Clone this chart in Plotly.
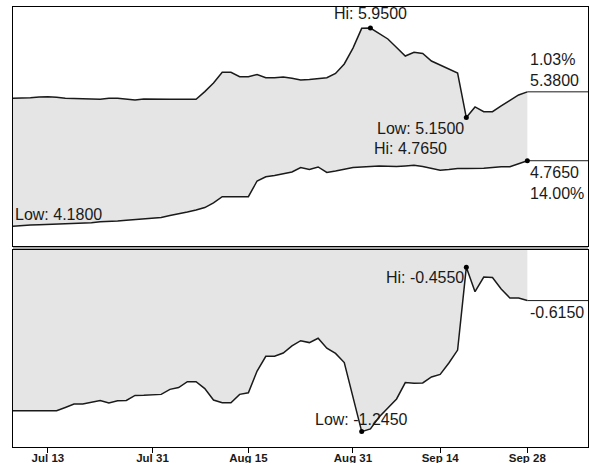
import plotly.graph_objects as go
import pandas as pd

# business days shown on the chart (weekends removed from the axis)
dates = list(pd.bdate_range("2007-07-09", "2007-09-28"))
axis_end = "2007-10-08 23:00"

tick_dates = ["2007-07-13", "2007-07-31", "2007-08-15", "2007-08-31", "2007-09-14", "2007-09-28"]
tick_labels = ["Jul 13", "Jul 31", "Aug 15", "Aug 31", "Sep 14", "Sep 28"]

upper = [5.322, 5.323, 5.328, 5.334, 5.337, 5.331, 5.322, 5.320, 5.320, 5.316,
         5.313, 5.322, 5.322, 5.316, 5.307, 5.316, 5.313, 5.313, 5.313, 5.313,
         5.313, 5.313, 5.382, 5.459, 5.554, 5.554, 5.515, 5.515, 5.535, 5.506,
         5.506, 5.512, 5.501, 5.486, 5.490, 5.496, 5.506, 5.544, 5.629, 5.771,
         5.947, 5.950, 5.901, 5.852, 5.776, 5.700, 5.733, 5.722, 5.655, 5.620,
         5.584, 5.548, 5.150, 5.245, 5.203, 5.203, 5.254, 5.307, 5.352, 5.380]

lower = [4.180, 4.187, 4.191, 4.194, 4.197, 4.200, 4.203, 4.204, 4.206, 4.212,
         4.220, 4.221, 4.227, 4.233, 4.240, 4.245, 4.249, 4.258, 4.276, 4.289,
         4.307, 4.325, 4.347, 4.388, 4.444, 4.444, 4.444, 4.444, 4.584, 4.622,
         4.633, 4.646, 4.664, 4.704, 4.687, 4.709, 4.660, 4.673, 4.691, 4.704,
         4.709, 4.713, 4.718, 4.715, 4.713, 4.718, 4.724, 4.713, 4.696, 4.680,
         4.687, 4.696, 4.696, 4.696, 4.697, 4.704, 4.712, 4.712, 4.736, 4.765]

spread = [-1.145, -1.145, -1.145, -1.145, -1.145, -1.145, -1.129, -1.112, -1.112, -1.105,
          -1.095, -1.107, -1.097, -1.095, -1.071, -1.070, -1.067, -1.066, -1.042, -1.033,
          -1.005, -1.005, -1.038, -1.093, -1.106, -1.106, -1.066, -1.058, -0.954, -0.883,
          -0.883, -0.867, -0.833, -0.808, -0.817, -0.796, -0.844, -0.869, -0.913, -1.079,
          -1.245, -1.232, -1.175, -1.131, -1.088, -1.009, -1.013, -1.011, -0.982, -0.970,
          -0.915, -0.853, -0.455, -0.572, -0.502, -0.504, -0.559, -0.603, -0.603, -0.615]

upper_change = "1.03%"
lower_change = "14.00%"

top_range = [4.0036, 6.1375]
bot_range = [-1.319, -0.3718]

LINE = "#1a1a1a"
FILL = "#e5e5e5"
FONT = "Liberation Sans, Arial, sans-serif"

fig = go.Figure()

# ---- top panel ----
fig.add_trace(go.Scatter(x=dates, y=lower, xaxis="x2", yaxis="y2", mode="lines",
                         line=dict(color=LINE, width=1.5), hoverinfo="skip"))
fig.add_trace(go.Scatter(x=dates, y=upper, xaxis="x2", yaxis="y2", mode="lines",
                         line=dict(color=LINE, width=1.5), fill="tonexty", fillcolor=FILL,
                         hoverinfo="skip"))
fig.add_trace(go.Scatter(x=[dates[-1], axis_end], y=[upper[-1], upper[-1]], xaxis="x2", yaxis="y2",
                         mode="lines", line=dict(color=LINE, width=1), hoverinfo="skip"))
fig.add_trace(go.Scatter(x=[dates[-1], axis_end], y=[lower[-1], lower[-1]], xaxis="x2", yaxis="y2",
                         mode="lines", line=dict(color=LINE, width=1), hoverinfo="skip"))

iu_hi = upper.index(max(upper))
iu_lo = upper.index(min(upper))
il_hi = lower.index(max(lower))
fig.add_trace(go.Scatter(x=[dates[iu_hi], dates[iu_lo], dates[il_hi]],
                         y=[upper[iu_hi], upper[iu_lo], lower[il_hi]],
                         xaxis="x2", yaxis="y2", mode="markers",
                         marker=dict(color="black", size=5), hoverinfo="skip"))

# ---- bottom panel ----
fig.add_trace(go.Scatter(x=dates, y=[bot_range[1]] * len(dates), xaxis="x", yaxis="y", mode="lines",
                         line=dict(width=0, color="rgba(0,0,0,0)"), hoverinfo="skip"))
fig.add_trace(go.Scatter(x=dates, y=spread, xaxis="x", yaxis="y", mode="lines",
                         line=dict(color=LINE, width=1.5), fill="tonexty", fillcolor=FILL,
                         hoverinfo="skip"))
fig.add_trace(go.Scatter(x=[dates[-1], axis_end], y=[spread[-1], spread[-1]], xaxis="x", yaxis="y",
                         mode="lines", line=dict(color=LINE, width=1), hoverinfo="skip"))
is_hi = spread.index(max(spread))
is_lo = spread.index(min(spread))
fig.add_trace(go.Scatter(x=[dates[is_hi], dates[is_lo]], y=[spread[is_hi], spread[is_lo]],
                         xaxis="x", yaxis="y", mode="markers",
                         marker=dict(color="black", size=5), hoverinfo="skip"))

afont = dict(family=FONT, size=16, color="#1a1a1a")
ann = []
ann.append(dict(x=dates[iu_hi], y=upper[iu_hi], xref="x2", yref="y2", text=f"Hi: {upper[iu_hi]:.4f}",
                xanchor="center", yanchor="bottom", yshift=4, showarrow=False, font=afont))
ann.append(dict(x=dates[iu_lo], y=upper[iu_lo], xref="x2", yref="y2", text=f"Low: {upper[iu_lo]:.4f}",
                xanchor="right", yanchor="top", yshift=0, showarrow=False, font=afont))
ann.append(dict(x=dates[il_hi], y=lower[il_hi], xref="x2", yref="y2", text=f"Hi: {lower[il_hi]:.4f}",
                xanchor="right", yanchor="bottom", xshift=-78, yshift=2, showarrow=False, font=afont))
il_lo = lower.index(min(lower))
ann.append(dict(x=dates[il_lo], y=lower[il_lo], xref="x2", yref="y2", text=f"Low: {lower[il_lo]:.4f}",
                xanchor="left", yanchor="bottom", xshift=0, yshift=1, showarrow=False, font=afont))
ann.append(dict(x=dates[-1], y=upper[-1], xref="x2", yref="y2",
                text=f"{upper_change}<br>{upper[-1]:.4f}",
                xanchor="left", yanchor="bottom", xshift=1, yshift=1, align="left",
                showarrow=False, font=afont))
ann.append(dict(x=dates[-1], y=lower[-1], xref="x2", yref="y2",
                text=f"{lower[-1]:.4f}<br>{lower_change}",
                xanchor="left", yanchor="top", xshift=1, yshift=-1, align="left",
                showarrow=False, font=afont))
ann.append(dict(x=dates[is_hi], y=spread[is_hi], xref="x", yref="y", text=f"Hi: {spread[is_hi]:.4f}",
                xanchor="right", yanchor="top", yshift=0, showarrow=False, font=afont))
ann.append(dict(x=dates[is_lo], y=spread[is_lo], xref="x", yref="y", text=f"Low: {spread[is_lo]:.4f}",
                xanchor="center", yanchor="bottom", yshift=2, showarrow=False, font=afont))
ann.append(dict(x=dates[-1], y=spread[-1], xref="x", yref="y", text=f"{spread[-1]:.4f}",
                xanchor="left", yanchor="top", xshift=1, yshift=-1, showarrow=False, font=afont))

bot_dom = [0, 197 / 440]
top_dom = [201 / 440, 1]

xcommon = dict(type="date", range=[dates[0], axis_end], rangebreaks=[dict(bounds=["sat", "mon"])],
               showgrid=False, zeroline=False, showline=True, mirror=True, linecolor="black",
               linewidth=1, automargin=False)

fig.update_layout(
    width=589, height=463,
    margin=dict(l=13, r=1, t=7, b=16, autoexpand=False),
    paper_bgcolor="white", plot_bgcolor="white",
    showlegend=False,
    annotations=ann,
    xaxis=dict(**xcommon, anchor="y", tickvals=tick_dates, ticktext=tick_labels,
               ticks="outside", ticklen=5, tickcolor="black", tickwidth=1,
               ticklabelstandoff=-5,
               tickfont=dict(family=FONT, size=11.5, color="#1a1a1a", weight="bold")),
    xaxis2=dict(**xcommon, anchor="y2", matches="x", showticklabels=False, ticks=""),
    yaxis=dict(domain=bot_dom, range=bot_range, showgrid=False, zeroline=False, showticklabels=False,
               ticks="", showline=True, mirror=True, linecolor="black", linewidth=1, automargin=False),
    yaxis2=dict(domain=top_dom, range=top_range, showgrid=False, zeroline=False, showticklabels=False,
                ticks="", showline=True, mirror=True, linecolor="black", linewidth=1, automargin=False),
    shapes=[dict(type="rect", xref="paper", yref="paper", x0=0, x1=1, y0=bot_dom[1], y1=top_dom[0],
                 fillcolor="#a8a8a8", line=dict(width=0), layer="below")],
)

fig.write_html("out.html", config={"displayModeBar": False},
               post_script="document.body.style.margin='0px';document.body.style.overflow='hidden';")
